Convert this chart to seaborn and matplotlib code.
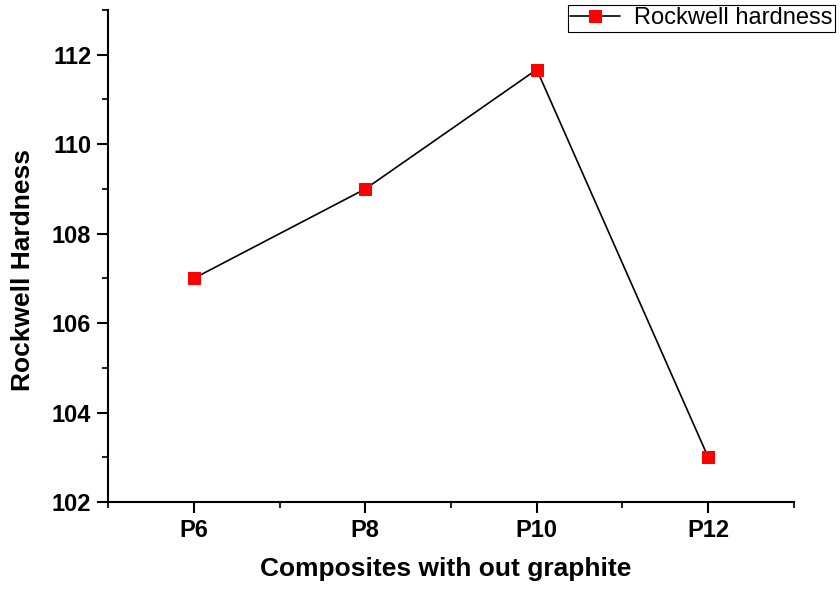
import pandas as pd
import matplotlib.pyplot as plt
import seaborn as sns
from matplotlib.ticker import MultipleLocator, FixedLocator

# Data
samples = ['P6', 'P8', 'P10', 'P12']
hardness = [107.0, 109.0, 111.67, 103.0]

df = pd.DataFrame({'sample': samples, 'hardness': hardness})

sns.set_style('ticks')
plt.rcParams['font.family'] = ['Liberation Sans', 'DejaVu Sans']

fig = plt.figure(figsize=(8.4, 5.9), dpi=100)
ax = fig.add_axes([0.1286, 0.149, 0.8166, 0.834])

sns.lineplot(data=df, x='sample', y='hardness', ax=ax, color='black',
             linewidth=1.2, marker='s', markersize=8, markerfacecolor='red',
             markeredgecolor='red', label='Rockwell hardness')

ax.set_xlim(-0.5, 3.5)
ax.set_ylim(102, 113)
ax.xaxis.set_major_locator(FixedLocator(range(len(samples))))
ax.set_xticklabels(samples)
ax.xaxis.set_minor_locator(FixedLocator([-0.5, 0.5, 1.5, 2.5, 3.5]))
ax.yaxis.set_major_locator(MultipleLocator(2))
ax.yaxis.set_minor_locator(MultipleLocator(1))

for s in ['top', 'right']:
    ax.spines[s].set_visible(False)
for s in ['left', 'bottom']:
    ax.spines[s].set_linewidth(1.5)
    ax.spines[s].set_color('black')

ax.tick_params(which='major', direction='out', length=8, width=1.5, labelsize=17,
               colors='black', pad=4)
ax.tick_params(which='minor', direction='out', length=4, width=1.5)
for lab in ax.get_xticklabels() + ax.get_yticklabels():
    lab.set_fontweight('bold')

ax.set_xlabel('Composites with out graphite', fontsize=19, fontweight='bold', color='black')
ax.set_ylabel('Rockwell Hardness', fontsize=19, fontweight='bold', color='black')
ax.xaxis.set_label_coords(0.492, -0.112)
ax.yaxis.set_label_coords(-0.107, 0.472)

leg = ax.legend(loc='upper right', bbox_to_anchor=(835 / 840, 1 - 5 / 590),
                bbox_transform=fig.transFigure, fontsize=17, frameon=True,
                fancybox=False, edgecolor='black', framealpha=1, borderpad=0.1,
                handlelength=2.1, handletextpad=0.6, borderaxespad=0)
leg.get_frame().set_linewidth(0.8)
for t in leg.get_texts():
    t.set_color('black')

fig.savefig('out.png', dpi=100)
